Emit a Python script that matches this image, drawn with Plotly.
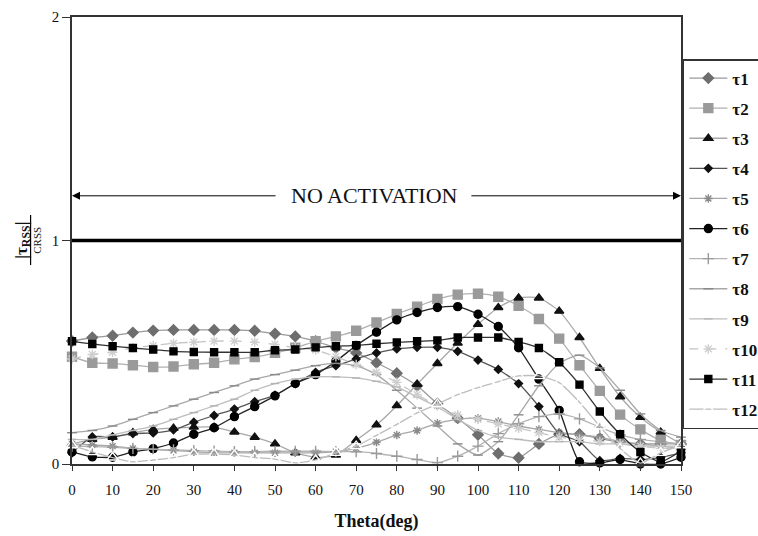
import plotly.graph_objects as go

theta = [0, 5, 10, 15, 20, 25, 30, 35, 40, 45, 50, 55, 60, 65, 70, 75,
         80, 85, 90, 95, 100, 105, 110, 115, 120, 125, 130, 135, 140, 145, 150]

tau1 = [0.55, 0.566, 0.574, 0.588, 0.597, 0.60, 0.60, 0.60, 0.60, 0.596, 0.583, 0.571, 0.549, 0.52, 0.497, 0.453,
        0.406, 0.35, 0.27, 0.205, 0.131, 0.047, 0.028, 0.09, 0.133, 0.133, 0.114, 0.099, 0.09, 0.09, 0.09]
tau2 = [0.48, 0.453, 0.45, 0.442, 0.434, 0.436, 0.446, 0.453, 0.468, 0.478, 0.497, 0.52, 0.549, 0.571, 0.596, 0.633,
        0.671, 0.704, 0.738, 0.758, 0.762, 0.748, 0.708, 0.649, 0.561, 0.442, 0.327, 0.221, 0.155, 0.106, 0.085]
tau3 = [0.09, 0.11, 0.12, 0.14, 0.155, 0.16, 0.165, 0.165, 0.143, 0.12, 0.09, 0.05, 0.03, 0.04, 0.106, 0.175,
        0.261, 0.357, 0.45, 0.541, 0.625, 0.70, 0.743, 0.743, 0.684, 0.566, 0.428, 0.301, 0.209, 0.143, 0.09]
tau4 = [0.05, 0.121, 0.121, 0.136, 0.139, 0.153, 0.187, 0.217, 0.246, 0.279, 0.308, 0.36, 0.41, 0.44, 0.47, 0.497,
        0.515, 0.522, 0.522, 0.504, 0.465, 0.423, 0.36, 0.257, 0.136, 0.10, 0.015, 0.025, 0.02, 0.03, 0.05]
tau5 = [0.09, 0.085, 0.08, 0.07, 0.065, 0.06, 0.055, 0.05, 0.05, 0.05, 0.05, 0.05, 0.05, 0.055, 0.07, 0.097,
        0.13, 0.15, 0.183, 0.20, 0.205, 0.19, 0.17, 0.155, 0.14, 0.13, 0.12, 0.10, 0.09, 0.08, 0.07]
tau6 = [0.054, 0.032, 0.03, 0.054, 0.069, 0.094, 0.133, 0.162, 0.212, 0.257, 0.305, 0.36, 0.40, 0.46, 0.53, 0.59,
        0.645, 0.678, 0.70, 0.704, 0.67, 0.615, 0.52, 0.38, 0.24, 0.01, 0.005, 0.02, 0.0, 0.0, 0.03]
tau7 = [0.08, 0.078, 0.075, 0.07, 0.066, 0.063, 0.06, 0.058, 0.055, 0.055, 0.057, 0.057, 0.057, 0.055, 0.055, 0.047,
        0.035, 0.02, 0.006, 0.035, 0.08, 0.136, 0.18, 0.212, 0.224, 0.202, 0.165, 0.13, 0.11, 0.10, 0.09]
tau8 = [0.14, 0.15, 0.17, 0.20, 0.23, 0.26, 0.29, 0.32, 0.35, 0.38, 0.40, 0.42, 0.44, 0.45, 0.44, 0.40,
        0.33, 0.25, 0.17, 0.09, 0.04, 0.10, 0.22, 0.35, 0.45, 0.487, 0.43, 0.33, 0.224, 0.15, 0.12]
tau9 = [0.11, 0.11, 0.13, 0.15, 0.17, 0.20, 0.23, 0.26, 0.29, 0.33, 0.36, 0.38, 0.39, 0.39, 0.385, 0.37,
        0.345, 0.30, 0.255, 0.20, 0.15, 0.12, 0.11, 0.10, 0.10, 0.10, 0.09, 0.09, 0.08, 0.08, 0.08]
tau10 = [0.47, 0.49, 0.50, 0.52, 0.53, 0.54, 0.545, 0.55, 0.55, 0.545, 0.535, 0.52, 0.51, 0.48, 0.445, 0.41,
         0.365, 0.31, 0.26, 0.22, 0.20, 0.18, 0.16, 0.14, 0.12, 0.11, 0.10, 0.09, 0.08, 0.07, 0.07]
tau11 = [0.549, 0.537, 0.527, 0.519, 0.512, 0.504, 0.501, 0.50, 0.50, 0.50, 0.509, 0.512, 0.522, 0.527, 0.531, 0.538,
         0.544, 0.549, 0.553, 0.566, 0.566, 0.566, 0.546, 0.519, 0.455, 0.355, 0.235, 0.133, 0.054, 0.01, 0.059]
tau12 = [0.084, 0.054, 0.029, 0.01, 0.018, 0.029, 0.044, 0.044, 0.04, 0.029, 0.022, 0.005, 0.018, 0.05, 0.08, 0.128,
         0.177, 0.229, 0.268, 0.31, 0.342, 0.369, 0.394, 0.394, 0.364, 0.276, 0.168, 0.069, 0.004, 0.05, 0.084]

names = ["τ1", "τ2", "τ3", "τ4", "τ5", "τ6", "τ7", "τ8", "τ9", "τ10", "τ11", "τ12"]
series = [tau1, tau2, tau3, tau4, tau5, tau6, tau7, tau8, tau9, tau10, tau11, tau12]

x_ticks = [0, 10, 20, 30, 40, 50, 60, 70, 80, 90, 100, 110, 120, 130, 140, 150]
y_ticks = [0, 1, 2]
threshold = 1.0
label_y = 1.2

# style per series: (symbol, marker fill, marker line, size, line color, line dash)
styles = [
    ("diamond", "#6e6e6e", "#6e6e6e", 8, "#9a9a9a", "solid"),
    ("square", "#9a9a9a", "#9a9a9a", 9, "#b0b0b0", "solid"),
    ("triangle-up", "#111111", "#111111", 8, "#a8a8a8", "solid"),
    ("diamond", "#111111", "#111111", 6, "#555555", "solid"),
    ("asterisk-open", "#8a8a8a", "#8a8a8a", 7, "#a8a8a8", "solid"),
    ("circle", "#000000", "#000000", 8, "#222222", "solid"),
    ("cross-thin-open", "#9a9a9a", "#9a9a9a", 8, "#b4b4b4", "solid"),
    ("line-ew-open", "#8a8a8a", "#8a8a8a", 7, "#a8a8a8", "solid"),
    ("line-ew-open", "#b4b4b4", "#b4b4b4", 6, "#bdbdbd", "solid"),
    ("asterisk-open", "#cfcfcf", "#cfcfcf", 8, "#c4c4c4", "dash"),
    ("square", "#000000", "#000000", 7, "#333333", "solid"),
    ("triangle-up-open", "#ffffff", "#555555", 10, "#bdbdbd", "solid"),
]

fig = go.Figure()
for i, (nm, ys) in enumerate(zip(names, series)):
    sym, fill, mline, size, lcol, dash = styles[i]
    fig.add_trace(go.Scatter(
        x=theta, y=ys, name="<b>" + nm + "</b>", mode="lines+markers",
        line=dict(color=lcol, width=1.3, dash=dash, shape="spline", smoothing=0.6),
        marker=dict(symbol=sym, color=fill, size=size,
                    line=dict(color=mline, width=1.4)),
        cliponaxis=False, legendgroup=nm,
    ))

# threshold line
fig.add_shape(type="line", xref="x", yref="y", x0=x_ticks[0], x1=x_ticks[-1],
              y0=threshold, y1=threshold, line=dict(color="black", width=3.5))

serif = "Liberation Serif, Times New Roman, serif"

# NO ACTIVATION label with arrows
fig.add_annotation(x=74.4, y=label_y, xref="x", yref="y", text="NO ACTIVATION",
                   showarrow=False, font=dict(family=serif, size=22, color="#111"),
                   bgcolor="white")
fig.add_annotation(x=0, y=label_y, ax=50.5, ay=label_y, xref="x", yref="y",
                   axref="x", ayref="y", text="", showarrow=True,
                   arrowhead=2, arrowsize=1.6, arrowwidth=1, arrowcolor="black")
fig.add_annotation(x=150, y=label_y, ax=98, ay=label_y, xref="x", yref="y",
                   axref="x", ayref="y", text="", showarrow=True,
                   arrowhead=2, arrowsize=1.6, arrowwidth=1, arrowcolor="black")

# y-axis title as fraction
fig.add_annotation(x=-0.081, y=0.501, xref="paper", yref="paper",
                   xanchor="center", yanchor="middle",
                   text="<b>|τ<sub>RSS</sub>|</b>", textangle=-90, showarrow=False,
                   font=dict(family=serif, size=17, color="#111"))
fig.add_annotation(x=-0.058, y=0.501, xref="paper", yref="paper",
                   xanchor="center", yanchor="middle",
                   text="CRSS", textangle=-90, showarrow=False,
                   font=dict(family=serif, size=11, color="#111"))
fig.add_shape(type="line", xref="paper", yref="paper", x0=-0.068, x1=-0.068,
              y0=0.445, y1=0.557, line=dict(color="black", width=1.2))

fig.update_layout(
    width=758, height=536,
    margin=dict(l=72, r=77, t=17, b=72, autoexpand=False),
    paper_bgcolor="white", plot_bgcolor="white",
    font=dict(family=serif, color="#111"),
    showlegend=True,
    legend=dict(x=1.003, y=0.906, xanchor="left", yanchor="top",
                bordercolor="#333", borderwidth=1.5, bgcolor="white",
                font=dict(family=serif, size=17, color="#111"),
                tracegroupgap=5, itemwidth=38, traceorder="grouped"),
    xaxis=dict(range=[0, 150], tickvals=x_ticks, ticks="outside", ticklen=5,
               tickcolor="#333", showline=True, linecolor="#333", linewidth=1.5,
               mirror=True, showgrid=False, zeroline=False, ticklabelstandoff=6,
               tickfont=dict(family=serif, size=15, color="#111"),
               title=dict(text="<b>Theta(deg)</b>", font=dict(family=serif, size=18, color="#111"),
                          standoff=18)),
    yaxis=dict(range=[0, 2], tickvals=y_ticks, ticks="outside", ticklen=8,
               tickcolor="#333", showline=True, linecolor="#333", linewidth=1.5,
               mirror=True, showgrid=False, zeroline=False,
               tickfont=dict(family=serif, size=15, color="#111")),
)

fig.write_html("out.html")
